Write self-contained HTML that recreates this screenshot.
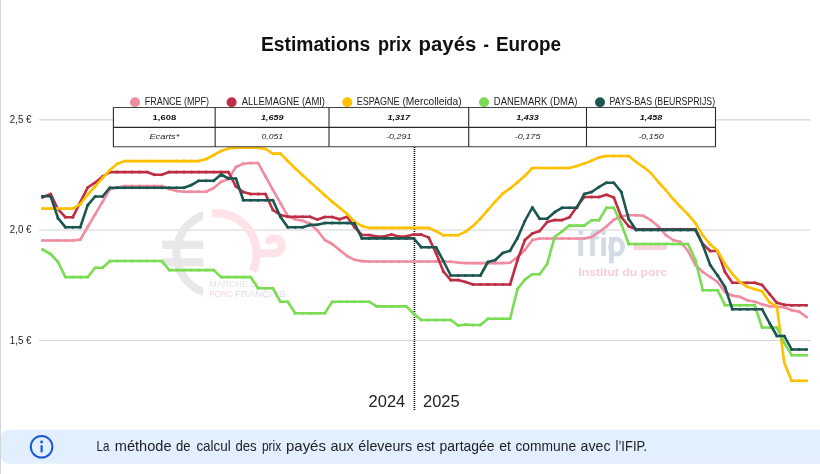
<!DOCTYPE html>
<html><head><meta charset="utf-8">
<style>
html,body{margin:0;padding:0;background:#fff;}
body{width:820px;height:474px;overflow:hidden;position:relative;font-family:"Liberation Sans",sans-serif;}
svg{position:absolute;left:0;top:0;will-change:transform;}
text{font-family:"Liberation Sans",sans-serif;}
</style></head>
<body>
<svg width="820" height="474" viewBox="0 0 820 474">
<rect x="0" y="0" width="820" height="474" fill="#fff"/>
<!-- left border -->
<rect x="0" y="0" width="1" height="474" fill="#d3d3da"/>
<!-- title -->
<g font-size="19.5" font-weight="bold" fill="#111"><text x="260.9" y="50.9" textLength="109.3" lengthAdjust="spacingAndGlyphs">Estimations</text><text x="378" y="50.9" textLength="33.2" lengthAdjust="spacingAndGlyphs">prix</text><text x="418.6" y="50.9" textLength="57.7" lengthAdjust="spacingAndGlyphs">payés</text><text x="483.6" y="50.9" textLength="5.4" lengthAdjust="spacingAndGlyphs">-</text><text x="495.9" y="50.9" textLength="65.1" lengthAdjust="spacingAndGlyphs">Europe</text></g>
<!-- gridlines -->
<g stroke="#d4d4d4" stroke-width="1.2">
<line x1="39" y1="119.8" x2="810.4" y2="119.8"/>
<line x1="39" y1="230" x2="810.4" y2="230"/>
<line x1="39" y1="340.5" x2="810.4" y2="340.5"/>
</g>
<!-- y labels -->
<g font-size="10.6" fill="#222">
<text x="9.8" y="122.9" textLength="21.6" lengthAdjust="spacingAndGlyphs">2,5 €</text>
<text x="9.8" y="233.2" textLength="21.6" lengthAdjust="spacingAndGlyphs">2,0 €</text>
<text x="9.8" y="343.6" textLength="21.6" lengthAdjust="spacingAndGlyphs">1,5 €</text>
</g>
<!-- watermark MPF -->
<g opacity="1">
<path d="M203.2,211.1 A44.7,44.7 0 0 0 203.2,296.1 L203.2,287.5 A36.6,36.6 0 0 1 203.2,219.7 Z" fill="#e8e8e8"/>
<rect x="162.4" y="240.6" width="40.9" height="8.4" fill="#e8e8e8"/>
<rect x="162.4" y="258.2" width="40.9" height="8.1" fill="#e8e8e8"/>
<path d="M212,213.3 A40.5,40.5 0 0 1 252.5,271.4" fill="none" stroke="#fde3e7" stroke-width="8.2"/>
<path d="M256.6,253.2 L274.3,253.2 A7.4,7.4 0 1 0 269.1,240.6" fill="none" stroke="#fde3e7" stroke-width="8" stroke-linecap="round"/>
<text x="209.3" y="287" font-size="8.6" fill="#e4e4e4" textLength="54" lengthAdjust="spacingAndGlyphs">MARCHÉ DU</text>
<text x="209.3" y="296.5" font-size="8.6" fill="#fad5db" textLength="23.5" lengthAdjust="spacingAndGlyphs">PORC</text>
<text x="235" y="296.5" font-size="8.6" fill="#dcdcea" textLength="50.7" lengthAdjust="spacingAndGlyphs">FRANÇAIS</text>
</g>
<!-- watermark IFIP -->
<g>
<g fill="#d3dbe6" stroke="none">
<circle cx="580.75" cy="232.6" r="2.55"/><rect x="578.3" y="237.4" width="4.9" height="18.8"/>
<circle cx="603.55" cy="232.6" r="2.55"/><rect x="601.1" y="237.4" width="4.9" height="18.8"/>
<rect x="586.8" y="235.9" width="12" height="3.6"/>
<rect x="609" y="237" width="4.8" height="26.3"/>
</g>
<path d="M592.45,256.2 L592.45,237" fill="none" stroke="#d3dbe6" stroke-width="4.7"/><path d="M592.2,238 L592.2,236 Q592.2,231.3 598.6,231.5" fill="none" stroke="#d3dbe6" stroke-width="4.1"/>
<ellipse cx="616.6" cy="246.7" rx="6.1" ry="7.5" fill="none" stroke="#d3dbe6" stroke-width="4.7"/>
<rect x="633" y="244.9" width="34" height="5.2" rx="2" fill="#f9d3da"/>
<text x="578.3" y="276.1" font-size="10.4" font-weight="bold" fill="#f7cdd5" textLength="88.7" lengthAdjust="spacingAndGlyphs">Institut du porc</text>
</g>
<!-- year divider -->
<line x1="414.45" y1="147" x2="414.45" y2="411" stroke="#000" stroke-width="1.6" stroke-dasharray="1.1,0.9"/>
<!-- series -->
<polyline points="42.5,240.5 50.6,240.5 58.0,240.5 65.4,240.5 72.8,240.5 80.3,239.6 87.7,227.0 95.1,214.4 102.5,201.8 109.9,189.2 117.3,187.5 124.7,186.0 132.1,186.0 139.5,186.0 147.0,186.0 154.4,186.0 161.8,186.0 169.2,189.0 176.6,191.0 184.0,191.7 191.4,191.7 198.8,191.7 206.2,191.7 213.7,188.0 221.1,181.7 228.5,179.0 235.9,167.0 243.3,163.7 250.7,163.0 258.1,163.1 265.5,176.4 272.9,189.8 280.4,203.2 287.8,216.2 295.2,219.2 302.6,220.8 310.0,223.8 317.4,230.5 324.8,240.0 332.2,244.0 339.6,250.0 347.1,256.0 354.5,259.8 361.9,261.1 369.3,261.5 376.7,261.5 384.1,261.5 391.5,261.5 398.9,261.5 406.3,261.5 413.7,261.5 421.2,261.5 428.6,261.5 436.0,261.5 443.4,261.5 450.8,261.7 458.2,262.5 465.6,263.1 473.0,263.1 480.4,263.1 487.9,263.1 495.3,263.1 502.7,263.1 510.1,262.7 517.5,257.0 524.9,250.0 532.3,240.0 539.7,238.5 547.1,238.5 554.6,238.5 562.0,238.5 569.4,238.5 576.8,238.5 584.2,238.5 591.6,237.0 599.0,232.0 606.4,226.5 613.8,219.8 621.3,216.2 628.7,215.2 636.1,215.2 643.5,215.8 650.9,220.2 658.3,226.2 665.7,235.0 673.1,240.0 680.5,242.0 688.0,251.0 695.4,265.0 702.8,272.0 710.2,277.0 717.6,282.0 725.0,292.0 732.4,295.6 739.8,296.8 747.2,300.2 754.7,301.8 762.1,304.2 769.5,306.2 776.9,306.8 784.3,307.2 791.7,310.2 799.1,311.6 806.5,317.0" fill="none" stroke="#F08C9F" stroke-width="2.6" stroke-linejoin="round" stroke-linecap="round"/>
<g fill="#F08C9F"><circle cx="42.5" cy="240.5" r="1.5"/><circle cx="50.6" cy="240.5" r="1.5"/><circle cx="58.0" cy="240.5" r="1.5"/><circle cx="65.4" cy="240.5" r="1.5"/><circle cx="72.8" cy="240.5" r="1.5"/><circle cx="80.3" cy="239.6" r="1.5"/><circle cx="87.7" cy="227.0" r="1.5"/><circle cx="95.1" cy="214.4" r="1.5"/><circle cx="102.5" cy="201.8" r="1.5"/><circle cx="109.9" cy="189.2" r="1.5"/><circle cx="117.3" cy="187.5" r="1.5"/><circle cx="124.7" cy="186.0" r="1.5"/><circle cx="132.1" cy="186.0" r="1.5"/><circle cx="139.5" cy="186.0" r="1.5"/><circle cx="147.0" cy="186.0" r="1.5"/><circle cx="154.4" cy="186.0" r="1.5"/><circle cx="161.8" cy="186.0" r="1.5"/><circle cx="169.2" cy="189.0" r="1.5"/><circle cx="176.6" cy="191.0" r="1.5"/><circle cx="184.0" cy="191.7" r="1.5"/><circle cx="191.4" cy="191.7" r="1.5"/><circle cx="198.8" cy="191.7" r="1.5"/><circle cx="206.2" cy="191.7" r="1.5"/><circle cx="213.7" cy="188.0" r="1.5"/><circle cx="221.1" cy="181.7" r="1.5"/><circle cx="228.5" cy="179.0" r="1.5"/><circle cx="235.9" cy="167.0" r="1.5"/><circle cx="243.3" cy="163.7" r="1.5"/><circle cx="250.7" cy="163.0" r="1.5"/><circle cx="258.1" cy="163.1" r="1.5"/><circle cx="265.5" cy="176.4" r="1.5"/><circle cx="272.9" cy="189.8" r="1.5"/><circle cx="280.4" cy="203.2" r="1.5"/><circle cx="287.8" cy="216.2" r="1.5"/><circle cx="295.2" cy="219.2" r="1.5"/><circle cx="302.6" cy="220.8" r="1.5"/><circle cx="310.0" cy="223.8" r="1.5"/><circle cx="317.4" cy="230.5" r="1.5"/><circle cx="324.8" cy="240.0" r="1.5"/><circle cx="332.2" cy="244.0" r="1.5"/><circle cx="339.6" cy="250.0" r="1.5"/><circle cx="347.1" cy="256.0" r="1.5"/><circle cx="354.5" cy="259.8" r="1.5"/><circle cx="361.9" cy="261.1" r="1.5"/><circle cx="369.3" cy="261.5" r="1.5"/><circle cx="376.7" cy="261.5" r="1.5"/><circle cx="384.1" cy="261.5" r="1.5"/><circle cx="391.5" cy="261.5" r="1.5"/><circle cx="398.9" cy="261.5" r="1.5"/><circle cx="406.3" cy="261.5" r="1.5"/><circle cx="413.7" cy="261.5" r="1.5"/><circle cx="421.2" cy="261.5" r="1.5"/><circle cx="428.6" cy="261.5" r="1.5"/><circle cx="436.0" cy="261.5" r="1.5"/><circle cx="443.4" cy="261.5" r="1.5"/><circle cx="450.8" cy="261.7" r="1.5"/><circle cx="458.2" cy="262.5" r="1.5"/><circle cx="465.6" cy="263.1" r="1.5"/><circle cx="473.0" cy="263.1" r="1.5"/><circle cx="480.4" cy="263.1" r="1.5"/><circle cx="487.9" cy="263.1" r="1.5"/><circle cx="495.3" cy="263.1" r="1.5"/><circle cx="502.7" cy="263.1" r="1.5"/><circle cx="510.1" cy="262.7" r="1.5"/><circle cx="517.5" cy="257.0" r="1.5"/><circle cx="524.9" cy="250.0" r="1.5"/><circle cx="532.3" cy="240.0" r="1.5"/><circle cx="539.7" cy="238.5" r="1.5"/><circle cx="547.1" cy="238.5" r="1.5"/><circle cx="554.6" cy="238.5" r="1.5"/><circle cx="562.0" cy="238.5" r="1.5"/><circle cx="569.4" cy="238.5" r="1.5"/><circle cx="576.8" cy="238.5" r="1.5"/><circle cx="584.2" cy="238.5" r="1.5"/><circle cx="591.6" cy="237.0" r="1.5"/><circle cx="599.0" cy="232.0" r="1.5"/><circle cx="606.4" cy="226.5" r="1.5"/><circle cx="613.8" cy="219.8" r="1.5"/><circle cx="621.3" cy="216.2" r="1.5"/><circle cx="628.7" cy="215.2" r="1.5"/><circle cx="636.1" cy="215.2" r="1.5"/><circle cx="643.5" cy="215.8" r="1.5"/><circle cx="650.9" cy="220.2" r="1.5"/><circle cx="658.3" cy="226.2" r="1.5"/><circle cx="665.7" cy="235.0" r="1.5"/><circle cx="673.1" cy="240.0" r="1.5"/><circle cx="680.5" cy="242.0" r="1.5"/><circle cx="688.0" cy="251.0" r="1.5"/><circle cx="695.4" cy="265.0" r="1.5"/><circle cx="702.8" cy="272.0" r="1.5"/><circle cx="710.2" cy="277.0" r="1.5"/><circle cx="717.6" cy="282.0" r="1.5"/><circle cx="725.0" cy="292.0" r="1.5"/><circle cx="732.4" cy="295.6" r="1.5"/><circle cx="739.8" cy="296.8" r="1.5"/><circle cx="747.2" cy="300.2" r="1.5"/><circle cx="754.7" cy="301.8" r="1.5"/><circle cx="762.1" cy="304.2" r="1.5"/><circle cx="769.5" cy="306.2" r="1.5"/><circle cx="776.9" cy="306.8" r="1.5"/><circle cx="784.3" cy="307.2" r="1.5"/><circle cx="791.7" cy="310.2" r="1.5"/><circle cx="799.1" cy="311.6" r="1.5"/><circle cx="806.5" cy="317.0" r="1.5"/></g>
<polyline points="42.5,197.3 50.6,193.9 58.0,209.2 65.4,217.2 72.8,217.2 80.3,202.2 87.7,187.5 95.1,182.7 102.5,176.5 109.9,172.1 117.3,172.1 124.7,172.1 132.1,172.1 139.5,172.1 147.0,172.1 154.4,174.7 161.8,174.7 169.2,172.1 176.6,172.1 184.0,172.1 191.4,172.1 198.8,172.1 206.2,172.1 213.7,172.1 221.1,172.1 228.5,172.1 235.9,186.5 243.3,192.0 250.7,194.0 258.1,194.0 265.5,194.0 272.9,210.0 280.4,215.0 287.8,216.8 295.2,216.8 302.6,216.8 310.0,216.8 317.4,219.6 324.8,217.0 332.2,217.0 339.6,219.3 347.1,216.7 354.5,227.2 361.9,235.0 369.3,235.0 376.7,236.6 384.1,236.6 391.5,234.6 398.9,236.6 406.3,236.2 413.7,234.6 421.2,234.6 428.6,237.4 436.0,253.0 443.4,271.5 450.8,280.1 458.2,280.1 465.6,282.1 473.0,284.5 480.4,284.5 487.9,284.5 495.3,284.5 502.7,284.5 510.1,284.5 517.5,260.0 524.9,240.0 532.3,233.5 539.7,231.0 547.1,222.1 554.6,220.1 562.0,220.1 569.4,217.2 576.8,207.0 584.2,197.0 591.6,197.0 599.0,197.0 606.4,194.7 613.8,197.5 621.3,217.0 628.7,226.2 636.1,229.2 643.5,229.2 650.9,229.2 658.3,229.2 665.7,229.2 673.1,229.2 680.5,229.2 688.0,229.2 695.4,229.2 702.8,244.0 710.2,251.0 717.6,251.0 725.0,272.0 732.4,282.7 739.8,282.7 747.2,282.7 754.7,282.7 762.1,285.0 769.5,294.0 776.9,302.8 784.3,304.8 791.7,305.2 799.1,305.2 806.5,305.2" fill="none" stroke="#BE2E45" stroke-width="2.6" stroke-linejoin="round" stroke-linecap="round"/>
<g fill="#BE2E45"><circle cx="42.5" cy="197.3" r="1.5"/><circle cx="50.6" cy="193.9" r="1.5"/><circle cx="58.0" cy="209.2" r="1.5"/><circle cx="65.4" cy="217.2" r="1.5"/><circle cx="72.8" cy="217.2" r="1.5"/><circle cx="80.3" cy="202.2" r="1.5"/><circle cx="87.7" cy="187.5" r="1.5"/><circle cx="95.1" cy="182.7" r="1.5"/><circle cx="102.5" cy="176.5" r="1.5"/><circle cx="109.9" cy="172.1" r="1.5"/><circle cx="117.3" cy="172.1" r="1.5"/><circle cx="124.7" cy="172.1" r="1.5"/><circle cx="132.1" cy="172.1" r="1.5"/><circle cx="139.5" cy="172.1" r="1.5"/><circle cx="147.0" cy="172.1" r="1.5"/><circle cx="154.4" cy="174.7" r="1.5"/><circle cx="161.8" cy="174.7" r="1.5"/><circle cx="169.2" cy="172.1" r="1.5"/><circle cx="176.6" cy="172.1" r="1.5"/><circle cx="184.0" cy="172.1" r="1.5"/><circle cx="191.4" cy="172.1" r="1.5"/><circle cx="198.8" cy="172.1" r="1.5"/><circle cx="206.2" cy="172.1" r="1.5"/><circle cx="213.7" cy="172.1" r="1.5"/><circle cx="221.1" cy="172.1" r="1.5"/><circle cx="228.5" cy="172.1" r="1.5"/><circle cx="235.9" cy="186.5" r="1.5"/><circle cx="243.3" cy="192.0" r="1.5"/><circle cx="250.7" cy="194.0" r="1.5"/><circle cx="258.1" cy="194.0" r="1.5"/><circle cx="265.5" cy="194.0" r="1.5"/><circle cx="272.9" cy="210.0" r="1.5"/><circle cx="280.4" cy="215.0" r="1.5"/><circle cx="287.8" cy="216.8" r="1.5"/><circle cx="295.2" cy="216.8" r="1.5"/><circle cx="302.6" cy="216.8" r="1.5"/><circle cx="310.0" cy="216.8" r="1.5"/><circle cx="317.4" cy="219.6" r="1.5"/><circle cx="324.8" cy="217.0" r="1.5"/><circle cx="332.2" cy="217.0" r="1.5"/><circle cx="339.6" cy="219.3" r="1.5"/><circle cx="347.1" cy="216.7" r="1.5"/><circle cx="354.5" cy="227.2" r="1.5"/><circle cx="361.9" cy="235.0" r="1.5"/><circle cx="369.3" cy="235.0" r="1.5"/><circle cx="376.7" cy="236.6" r="1.5"/><circle cx="384.1" cy="236.6" r="1.5"/><circle cx="391.5" cy="234.6" r="1.5"/><circle cx="398.9" cy="236.6" r="1.5"/><circle cx="406.3" cy="236.2" r="1.5"/><circle cx="413.7" cy="234.6" r="1.5"/><circle cx="421.2" cy="234.6" r="1.5"/><circle cx="428.6" cy="237.4" r="1.5"/><circle cx="436.0" cy="253.0" r="1.5"/><circle cx="443.4" cy="271.5" r="1.5"/><circle cx="450.8" cy="280.1" r="1.5"/><circle cx="458.2" cy="280.1" r="1.5"/><circle cx="465.6" cy="282.1" r="1.5"/><circle cx="473.0" cy="284.5" r="1.5"/><circle cx="480.4" cy="284.5" r="1.5"/><circle cx="487.9" cy="284.5" r="1.5"/><circle cx="495.3" cy="284.5" r="1.5"/><circle cx="502.7" cy="284.5" r="1.5"/><circle cx="510.1" cy="284.5" r="1.5"/><circle cx="517.5" cy="260.0" r="1.5"/><circle cx="524.9" cy="240.0" r="1.5"/><circle cx="532.3" cy="233.5" r="1.5"/><circle cx="539.7" cy="231.0" r="1.5"/><circle cx="547.1" cy="222.1" r="1.5"/><circle cx="554.6" cy="220.1" r="1.5"/><circle cx="562.0" cy="220.1" r="1.5"/><circle cx="569.4" cy="217.2" r="1.5"/><circle cx="576.8" cy="207.0" r="1.5"/><circle cx="584.2" cy="197.0" r="1.5"/><circle cx="591.6" cy="197.0" r="1.5"/><circle cx="599.0" cy="197.0" r="1.5"/><circle cx="606.4" cy="194.7" r="1.5"/><circle cx="613.8" cy="197.5" r="1.5"/><circle cx="621.3" cy="217.0" r="1.5"/><circle cx="628.7" cy="226.2" r="1.5"/><circle cx="636.1" cy="229.2" r="1.5"/><circle cx="643.5" cy="229.2" r="1.5"/><circle cx="650.9" cy="229.2" r="1.5"/><circle cx="658.3" cy="229.2" r="1.5"/><circle cx="665.7" cy="229.2" r="1.5"/><circle cx="673.1" cy="229.2" r="1.5"/><circle cx="680.5" cy="229.2" r="1.5"/><circle cx="688.0" cy="229.2" r="1.5"/><circle cx="695.4" cy="229.2" r="1.5"/><circle cx="702.8" cy="244.0" r="1.5"/><circle cx="710.2" cy="251.0" r="1.5"/><circle cx="717.6" cy="251.0" r="1.5"/><circle cx="725.0" cy="272.0" r="1.5"/><circle cx="732.4" cy="282.7" r="1.5"/><circle cx="739.8" cy="282.7" r="1.5"/><circle cx="747.2" cy="282.7" r="1.5"/><circle cx="754.7" cy="282.7" r="1.5"/><circle cx="762.1" cy="285.0" r="1.5"/><circle cx="769.5" cy="294.0" r="1.5"/><circle cx="776.9" cy="302.8" r="1.5"/><circle cx="784.3" cy="304.8" r="1.5"/><circle cx="791.7" cy="305.2" r="1.5"/><circle cx="799.1" cy="305.2" r="1.5"/><circle cx="806.5" cy="305.2" r="1.5"/></g>
<polyline points="42.5,208.6 50.6,208.6 58.0,208.6 65.4,208.6 72.8,208.6 80.3,204.2 87.7,194.5 95.1,186.5 102.5,178.1 109.9,170.1 117.3,163.7 124.7,161.1 132.1,161.1 139.5,161.1 147.0,161.1 154.4,161.1 161.8,161.1 169.2,161.1 176.6,161.1 184.0,161.1 191.4,161.1 198.8,161.1 206.2,159.0 213.7,155.0 221.1,151.0 228.5,148.4 235.9,147.8 243.3,147.8 250.7,147.8 258.1,147.8 265.5,149.0 272.9,153.6 280.4,153.6 287.8,161.0 295.2,168.4 302.6,175.2 310.0,181.9 317.4,188.6 324.8,195.3 332.2,201.7 339.6,207.8 347.1,214.0 354.5,221.6 361.9,226.0 369.3,227.9 376.7,227.9 384.1,227.9 391.5,227.9 398.9,227.9 406.3,227.9 413.7,227.9 421.2,227.9 428.6,227.9 436.0,231.2 443.4,235.2 450.8,235.2 458.2,235.2 465.6,231.6 473.0,226.0 480.4,218.6 487.9,210.0 495.3,201.4 502.7,193.6 510.1,188.4 517.5,182.2 524.9,175.8 532.3,168.0 539.7,168.0 547.1,168.0 554.6,168.0 562.0,168.0 569.4,168.0 576.8,166.0 584.2,163.6 591.6,160.6 599.0,157.4 606.4,156.0 613.8,156.0 621.3,156.0 628.7,156.0 636.1,162.0 643.5,167.0 650.9,173.0 658.3,182.0 665.7,190.0 673.1,199.0 680.5,206.8 688.0,214.4 695.4,223.2 702.8,235.4 710.2,244.2 717.6,250.8 725.0,264.0 732.4,274.0 739.8,282.0 747.2,286.8 754.7,289.2 762.1,291.2 769.5,302.2 776.9,306.5 784.3,363.0 791.7,380.8 799.1,380.8 806.5,380.8" fill="none" stroke="#FFC000" stroke-width="2.6" stroke-linejoin="round" stroke-linecap="round"/>
<g fill="#FFC000"><circle cx="42.5" cy="208.6" r="1.5"/><circle cx="50.6" cy="208.6" r="1.5"/><circle cx="58.0" cy="208.6" r="1.5"/><circle cx="65.4" cy="208.6" r="1.5"/><circle cx="72.8" cy="208.6" r="1.5"/><circle cx="80.3" cy="204.2" r="1.5"/><circle cx="87.7" cy="194.5" r="1.5"/><circle cx="95.1" cy="186.5" r="1.5"/><circle cx="102.5" cy="178.1" r="1.5"/><circle cx="109.9" cy="170.1" r="1.5"/><circle cx="117.3" cy="163.7" r="1.5"/><circle cx="124.7" cy="161.1" r="1.5"/><circle cx="132.1" cy="161.1" r="1.5"/><circle cx="139.5" cy="161.1" r="1.5"/><circle cx="147.0" cy="161.1" r="1.5"/><circle cx="154.4" cy="161.1" r="1.5"/><circle cx="161.8" cy="161.1" r="1.5"/><circle cx="169.2" cy="161.1" r="1.5"/><circle cx="176.6" cy="161.1" r="1.5"/><circle cx="184.0" cy="161.1" r="1.5"/><circle cx="191.4" cy="161.1" r="1.5"/><circle cx="198.8" cy="161.1" r="1.5"/><circle cx="206.2" cy="159.0" r="1.5"/><circle cx="213.7" cy="155.0" r="1.5"/><circle cx="221.1" cy="151.0" r="1.5"/><circle cx="228.5" cy="148.4" r="1.5"/><circle cx="235.9" cy="147.8" r="1.5"/><circle cx="243.3" cy="147.8" r="1.5"/><circle cx="250.7" cy="147.8" r="1.5"/><circle cx="258.1" cy="147.8" r="1.5"/><circle cx="265.5" cy="149.0" r="1.5"/><circle cx="272.9" cy="153.6" r="1.5"/><circle cx="280.4" cy="153.6" r="1.5"/><circle cx="287.8" cy="161.0" r="1.5"/><circle cx="295.2" cy="168.4" r="1.5"/><circle cx="302.6" cy="175.2" r="1.5"/><circle cx="310.0" cy="181.9" r="1.5"/><circle cx="317.4" cy="188.6" r="1.5"/><circle cx="324.8" cy="195.3" r="1.5"/><circle cx="332.2" cy="201.7" r="1.5"/><circle cx="339.6" cy="207.8" r="1.5"/><circle cx="347.1" cy="214.0" r="1.5"/><circle cx="354.5" cy="221.6" r="1.5"/><circle cx="361.9" cy="226.0" r="1.5"/><circle cx="369.3" cy="227.9" r="1.5"/><circle cx="376.7" cy="227.9" r="1.5"/><circle cx="384.1" cy="227.9" r="1.5"/><circle cx="391.5" cy="227.9" r="1.5"/><circle cx="398.9" cy="227.9" r="1.5"/><circle cx="406.3" cy="227.9" r="1.5"/><circle cx="413.7" cy="227.9" r="1.5"/><circle cx="421.2" cy="227.9" r="1.5"/><circle cx="428.6" cy="227.9" r="1.5"/><circle cx="436.0" cy="231.2" r="1.5"/><circle cx="443.4" cy="235.2" r="1.5"/><circle cx="450.8" cy="235.2" r="1.5"/><circle cx="458.2" cy="235.2" r="1.5"/><circle cx="465.6" cy="231.6" r="1.5"/><circle cx="473.0" cy="226.0" r="1.5"/><circle cx="480.4" cy="218.6" r="1.5"/><circle cx="487.9" cy="210.0" r="1.5"/><circle cx="495.3" cy="201.4" r="1.5"/><circle cx="502.7" cy="193.6" r="1.5"/><circle cx="510.1" cy="188.4" r="1.5"/><circle cx="517.5" cy="182.2" r="1.5"/><circle cx="524.9" cy="175.8" r="1.5"/><circle cx="532.3" cy="168.0" r="1.5"/><circle cx="539.7" cy="168.0" r="1.5"/><circle cx="547.1" cy="168.0" r="1.5"/><circle cx="554.6" cy="168.0" r="1.5"/><circle cx="562.0" cy="168.0" r="1.5"/><circle cx="569.4" cy="168.0" r="1.5"/><circle cx="576.8" cy="166.0" r="1.5"/><circle cx="584.2" cy="163.6" r="1.5"/><circle cx="591.6" cy="160.6" r="1.5"/><circle cx="599.0" cy="157.4" r="1.5"/><circle cx="606.4" cy="156.0" r="1.5"/><circle cx="613.8" cy="156.0" r="1.5"/><circle cx="621.3" cy="156.0" r="1.5"/><circle cx="628.7" cy="156.0" r="1.5"/><circle cx="636.1" cy="162.0" r="1.5"/><circle cx="643.5" cy="167.0" r="1.5"/><circle cx="650.9" cy="173.0" r="1.5"/><circle cx="658.3" cy="182.0" r="1.5"/><circle cx="665.7" cy="190.0" r="1.5"/><circle cx="673.1" cy="199.0" r="1.5"/><circle cx="680.5" cy="206.8" r="1.5"/><circle cx="688.0" cy="214.4" r="1.5"/><circle cx="695.4" cy="223.2" r="1.5"/><circle cx="702.8" cy="235.4" r="1.5"/><circle cx="710.2" cy="244.2" r="1.5"/><circle cx="717.6" cy="250.8" r="1.5"/><circle cx="725.0" cy="264.0" r="1.5"/><circle cx="732.4" cy="274.0" r="1.5"/><circle cx="739.8" cy="282.0" r="1.5"/><circle cx="747.2" cy="286.8" r="1.5"/><circle cx="754.7" cy="289.2" r="1.5"/><circle cx="762.1" cy="291.2" r="1.5"/><circle cx="769.5" cy="302.2" r="1.5"/><circle cx="776.9" cy="306.5" r="1.5"/><circle cx="784.3" cy="363.0" r="1.5"/><circle cx="791.7" cy="380.8" r="1.5"/><circle cx="799.1" cy="380.8" r="1.5"/><circle cx="806.5" cy="380.8" r="1.5"/></g>
<polyline points="42.5,249.5 50.6,254.0 58.0,262.0 65.4,277.1 72.8,277.1 80.3,277.1 87.7,277.1 95.1,267.7 102.5,267.7 109.9,261.0 117.3,261.0 124.7,261.0 132.1,261.0 139.5,261.0 147.0,261.0 154.4,261.0 161.8,261.0 169.2,270.1 176.6,270.1 184.0,270.1 191.4,270.1 198.8,270.1 206.2,270.1 213.7,270.1 221.1,277.1 228.5,277.1 235.9,277.1 243.3,277.1 250.7,277.1 258.1,288.2 265.5,288.2 272.9,288.2 280.4,301.8 287.8,301.8 295.2,313.2 302.6,313.2 310.0,313.2 317.4,313.2 324.8,313.2 332.2,301.8 339.6,301.8 347.1,301.8 354.5,301.8 361.9,301.8 369.3,301.8 376.7,306.4 384.1,306.4 391.5,306.4 398.9,306.4 406.3,306.4 413.7,313.7 421.2,320.0 428.6,320.0 436.0,320.0 443.4,320.0 450.8,320.0 458.2,325.5 465.6,324.5 473.0,325.0 480.4,325.0 487.9,318.7 495.3,318.7 502.7,318.7 510.1,318.7 517.5,289.0 524.9,279.6 532.3,274.2 539.7,274.2 547.1,264.0 554.6,237.0 562.0,231.5 569.4,225.6 576.8,225.6 584.2,225.6 591.6,220.2 599.0,220.2 606.4,207.8 613.8,207.8 621.3,224.0 628.7,244.0 636.1,244.0 643.5,244.0 650.9,244.0 658.3,244.0 665.7,244.0 673.1,244.0 680.5,244.0 688.0,244.0 695.4,260.0 702.8,290.2 710.2,290.2 717.6,290.2 725.0,305.2 732.4,305.2 739.8,305.2 747.2,305.2 754.7,305.2 762.1,327.5 769.5,327.5 776.9,327.5 784.3,343.0 791.7,355.2 799.1,355.2 806.5,355.2" fill="none" stroke="#79DC52" stroke-width="2.6" stroke-linejoin="round" stroke-linecap="round"/>
<g fill="#79DC52"><circle cx="42.5" cy="249.5" r="1.5"/><circle cx="50.6" cy="254.0" r="1.5"/><circle cx="58.0" cy="262.0" r="1.5"/><circle cx="65.4" cy="277.1" r="1.5"/><circle cx="72.8" cy="277.1" r="1.5"/><circle cx="80.3" cy="277.1" r="1.5"/><circle cx="87.7" cy="277.1" r="1.5"/><circle cx="95.1" cy="267.7" r="1.5"/><circle cx="102.5" cy="267.7" r="1.5"/><circle cx="109.9" cy="261.0" r="1.5"/><circle cx="117.3" cy="261.0" r="1.5"/><circle cx="124.7" cy="261.0" r="1.5"/><circle cx="132.1" cy="261.0" r="1.5"/><circle cx="139.5" cy="261.0" r="1.5"/><circle cx="147.0" cy="261.0" r="1.5"/><circle cx="154.4" cy="261.0" r="1.5"/><circle cx="161.8" cy="261.0" r="1.5"/><circle cx="169.2" cy="270.1" r="1.5"/><circle cx="176.6" cy="270.1" r="1.5"/><circle cx="184.0" cy="270.1" r="1.5"/><circle cx="191.4" cy="270.1" r="1.5"/><circle cx="198.8" cy="270.1" r="1.5"/><circle cx="206.2" cy="270.1" r="1.5"/><circle cx="213.7" cy="270.1" r="1.5"/><circle cx="221.1" cy="277.1" r="1.5"/><circle cx="228.5" cy="277.1" r="1.5"/><circle cx="235.9" cy="277.1" r="1.5"/><circle cx="243.3" cy="277.1" r="1.5"/><circle cx="250.7" cy="277.1" r="1.5"/><circle cx="258.1" cy="288.2" r="1.5"/><circle cx="265.5" cy="288.2" r="1.5"/><circle cx="272.9" cy="288.2" r="1.5"/><circle cx="280.4" cy="301.8" r="1.5"/><circle cx="287.8" cy="301.8" r="1.5"/><circle cx="295.2" cy="313.2" r="1.5"/><circle cx="302.6" cy="313.2" r="1.5"/><circle cx="310.0" cy="313.2" r="1.5"/><circle cx="317.4" cy="313.2" r="1.5"/><circle cx="324.8" cy="313.2" r="1.5"/><circle cx="332.2" cy="301.8" r="1.5"/><circle cx="339.6" cy="301.8" r="1.5"/><circle cx="347.1" cy="301.8" r="1.5"/><circle cx="354.5" cy="301.8" r="1.5"/><circle cx="361.9" cy="301.8" r="1.5"/><circle cx="369.3" cy="301.8" r="1.5"/><circle cx="376.7" cy="306.4" r="1.5"/><circle cx="384.1" cy="306.4" r="1.5"/><circle cx="391.5" cy="306.4" r="1.5"/><circle cx="398.9" cy="306.4" r="1.5"/><circle cx="406.3" cy="306.4" r="1.5"/><circle cx="413.7" cy="313.7" r="1.5"/><circle cx="421.2" cy="320.0" r="1.5"/><circle cx="428.6" cy="320.0" r="1.5"/><circle cx="436.0" cy="320.0" r="1.5"/><circle cx="443.4" cy="320.0" r="1.5"/><circle cx="450.8" cy="320.0" r="1.5"/><circle cx="458.2" cy="325.5" r="1.5"/><circle cx="465.6" cy="324.5" r="1.5"/><circle cx="473.0" cy="325.0" r="1.5"/><circle cx="480.4" cy="325.0" r="1.5"/><circle cx="487.9" cy="318.7" r="1.5"/><circle cx="495.3" cy="318.7" r="1.5"/><circle cx="502.7" cy="318.7" r="1.5"/><circle cx="510.1" cy="318.7" r="1.5"/><circle cx="517.5" cy="289.0" r="1.5"/><circle cx="524.9" cy="279.6" r="1.5"/><circle cx="532.3" cy="274.2" r="1.5"/><circle cx="539.7" cy="274.2" r="1.5"/><circle cx="547.1" cy="264.0" r="1.5"/><circle cx="554.6" cy="237.0" r="1.5"/><circle cx="562.0" cy="231.5" r="1.5"/><circle cx="569.4" cy="225.6" r="1.5"/><circle cx="576.8" cy="225.6" r="1.5"/><circle cx="584.2" cy="225.6" r="1.5"/><circle cx="591.6" cy="220.2" r="1.5"/><circle cx="599.0" cy="220.2" r="1.5"/><circle cx="606.4" cy="207.8" r="1.5"/><circle cx="613.8" cy="207.8" r="1.5"/><circle cx="621.3" cy="224.0" r="1.5"/><circle cx="628.7" cy="244.0" r="1.5"/><circle cx="636.1" cy="244.0" r="1.5"/><circle cx="643.5" cy="244.0" r="1.5"/><circle cx="650.9" cy="244.0" r="1.5"/><circle cx="658.3" cy="244.0" r="1.5"/><circle cx="665.7" cy="244.0" r="1.5"/><circle cx="673.1" cy="244.0" r="1.5"/><circle cx="680.5" cy="244.0" r="1.5"/><circle cx="688.0" cy="244.0" r="1.5"/><circle cx="695.4" cy="260.0" r="1.5"/><circle cx="702.8" cy="290.2" r="1.5"/><circle cx="710.2" cy="290.2" r="1.5"/><circle cx="717.6" cy="290.2" r="1.5"/><circle cx="725.0" cy="305.2" r="1.5"/><circle cx="732.4" cy="305.2" r="1.5"/><circle cx="739.8" cy="305.2" r="1.5"/><circle cx="747.2" cy="305.2" r="1.5"/><circle cx="754.7" cy="305.2" r="1.5"/><circle cx="762.1" cy="327.5" r="1.5"/><circle cx="769.5" cy="327.5" r="1.5"/><circle cx="776.9" cy="327.5" r="1.5"/><circle cx="784.3" cy="343.0" r="1.5"/><circle cx="791.7" cy="355.2" r="1.5"/><circle cx="799.1" cy="355.2" r="1.5"/><circle cx="806.5" cy="355.2" r="1.5"/></g>
<polyline points="42.5,196.2 50.6,196.2 58.0,218.2 65.4,227.2 72.8,227.2 80.3,227.2 87.7,205.2 95.1,196.5 102.5,196.5 109.9,187.7 117.3,187.7 124.7,187.7 132.1,187.7 139.5,187.7 147.0,187.7 154.4,187.7 161.8,187.7 169.2,187.7 176.6,187.7 184.0,187.7 191.4,185.1 198.8,180.7 206.2,180.7 213.7,180.7 221.1,174.5 228.5,178.5 235.9,178.5 243.3,200.2 250.7,200.2 258.1,200.2 265.5,200.2 272.9,200.2 280.4,216.8 287.8,227.2 295.2,227.2 302.6,227.2 310.0,224.9 317.4,224.7 324.8,223.0 332.2,223.0 339.6,223.0 347.1,223.0 354.5,223.4 361.9,238.4 369.3,238.4 376.7,238.4 384.1,238.4 391.5,238.4 398.9,238.4 406.3,238.4 413.7,238.4 421.2,247.2 428.6,247.2 436.0,247.2 443.4,261.0 450.8,275.5 458.2,275.5 465.6,275.5 473.0,275.5 480.4,275.5 487.9,262.0 495.3,260.0 502.7,253.0 510.1,250.7 517.5,238.0 524.9,221.0 532.3,207.5 539.7,218.8 547.1,218.8 554.6,212.2 562.0,207.8 569.4,207.8 576.8,207.8 584.2,194.0 591.6,192.0 599.0,187.0 606.4,182.7 613.8,182.7 621.3,192.0 628.7,219.0 636.1,229.9 643.5,229.9 650.9,229.9 658.3,229.9 665.7,229.9 673.1,229.9 680.5,229.9 688.0,229.9 695.4,229.9 702.8,245.0 710.2,265.0 717.6,275.5 725.0,287.0 732.4,309.3 739.8,309.3 747.2,309.3 754.7,309.3 762.1,309.3 769.5,323.0 776.9,336.0 784.3,336.0 791.7,349.5 799.1,349.5 806.5,349.5" fill="none" stroke="#1B5650" stroke-width="2.6" stroke-linejoin="round" stroke-linecap="round"/>
<g fill="#1B5650"><circle cx="42.5" cy="196.2" r="1.5"/><circle cx="50.6" cy="196.2" r="1.5"/><circle cx="58.0" cy="218.2" r="1.5"/><circle cx="65.4" cy="227.2" r="1.5"/><circle cx="72.8" cy="227.2" r="1.5"/><circle cx="80.3" cy="227.2" r="1.5"/><circle cx="87.7" cy="205.2" r="1.5"/><circle cx="95.1" cy="196.5" r="1.5"/><circle cx="102.5" cy="196.5" r="1.5"/><circle cx="109.9" cy="187.7" r="1.5"/><circle cx="117.3" cy="187.7" r="1.5"/><circle cx="124.7" cy="187.7" r="1.5"/><circle cx="132.1" cy="187.7" r="1.5"/><circle cx="139.5" cy="187.7" r="1.5"/><circle cx="147.0" cy="187.7" r="1.5"/><circle cx="154.4" cy="187.7" r="1.5"/><circle cx="161.8" cy="187.7" r="1.5"/><circle cx="169.2" cy="187.7" r="1.5"/><circle cx="176.6" cy="187.7" r="1.5"/><circle cx="184.0" cy="187.7" r="1.5"/><circle cx="191.4" cy="185.1" r="1.5"/><circle cx="198.8" cy="180.7" r="1.5"/><circle cx="206.2" cy="180.7" r="1.5"/><circle cx="213.7" cy="180.7" r="1.5"/><circle cx="221.1" cy="174.5" r="1.5"/><circle cx="228.5" cy="178.5" r="1.5"/><circle cx="235.9" cy="178.5" r="1.5"/><circle cx="243.3" cy="200.2" r="1.5"/><circle cx="250.7" cy="200.2" r="1.5"/><circle cx="258.1" cy="200.2" r="1.5"/><circle cx="265.5" cy="200.2" r="1.5"/><circle cx="272.9" cy="200.2" r="1.5"/><circle cx="280.4" cy="216.8" r="1.5"/><circle cx="287.8" cy="227.2" r="1.5"/><circle cx="295.2" cy="227.2" r="1.5"/><circle cx="302.6" cy="227.2" r="1.5"/><circle cx="310.0" cy="224.9" r="1.5"/><circle cx="317.4" cy="224.7" r="1.5"/><circle cx="324.8" cy="223.0" r="1.5"/><circle cx="332.2" cy="223.0" r="1.5"/><circle cx="339.6" cy="223.0" r="1.5"/><circle cx="347.1" cy="223.0" r="1.5"/><circle cx="354.5" cy="223.4" r="1.5"/><circle cx="361.9" cy="238.4" r="1.5"/><circle cx="369.3" cy="238.4" r="1.5"/><circle cx="376.7" cy="238.4" r="1.5"/><circle cx="384.1" cy="238.4" r="1.5"/><circle cx="391.5" cy="238.4" r="1.5"/><circle cx="398.9" cy="238.4" r="1.5"/><circle cx="406.3" cy="238.4" r="1.5"/><circle cx="413.7" cy="238.4" r="1.5"/><circle cx="421.2" cy="247.2" r="1.5"/><circle cx="428.6" cy="247.2" r="1.5"/><circle cx="436.0" cy="247.2" r="1.5"/><circle cx="443.4" cy="261.0" r="1.5"/><circle cx="450.8" cy="275.5" r="1.5"/><circle cx="458.2" cy="275.5" r="1.5"/><circle cx="465.6" cy="275.5" r="1.5"/><circle cx="473.0" cy="275.5" r="1.5"/><circle cx="480.4" cy="275.5" r="1.5"/><circle cx="487.9" cy="262.0" r="1.5"/><circle cx="495.3" cy="260.0" r="1.5"/><circle cx="502.7" cy="253.0" r="1.5"/><circle cx="510.1" cy="250.7" r="1.5"/><circle cx="517.5" cy="238.0" r="1.5"/><circle cx="524.9" cy="221.0" r="1.5"/><circle cx="532.3" cy="207.5" r="1.5"/><circle cx="539.7" cy="218.8" r="1.5"/><circle cx="547.1" cy="218.8" r="1.5"/><circle cx="554.6" cy="212.2" r="1.5"/><circle cx="562.0" cy="207.8" r="1.5"/><circle cx="569.4" cy="207.8" r="1.5"/><circle cx="576.8" cy="207.8" r="1.5"/><circle cx="584.2" cy="194.0" r="1.5"/><circle cx="591.6" cy="192.0" r="1.5"/><circle cx="599.0" cy="187.0" r="1.5"/><circle cx="606.4" cy="182.7" r="1.5"/><circle cx="613.8" cy="182.7" r="1.5"/><circle cx="621.3" cy="192.0" r="1.5"/><circle cx="628.7" cy="219.0" r="1.5"/><circle cx="636.1" cy="229.9" r="1.5"/><circle cx="643.5" cy="229.9" r="1.5"/><circle cx="650.9" cy="229.9" r="1.5"/><circle cx="658.3" cy="229.9" r="1.5"/><circle cx="665.7" cy="229.9" r="1.5"/><circle cx="673.1" cy="229.9" r="1.5"/><circle cx="680.5" cy="229.9" r="1.5"/><circle cx="688.0" cy="229.9" r="1.5"/><circle cx="695.4" cy="229.9" r="1.5"/><circle cx="702.8" cy="245.0" r="1.5"/><circle cx="710.2" cy="265.0" r="1.5"/><circle cx="717.6" cy="275.5" r="1.5"/><circle cx="725.0" cy="287.0" r="1.5"/><circle cx="732.4" cy="309.3" r="1.5"/><circle cx="739.8" cy="309.3" r="1.5"/><circle cx="747.2" cy="309.3" r="1.5"/><circle cx="754.7" cy="309.3" r="1.5"/><circle cx="762.1" cy="309.3" r="1.5"/><circle cx="769.5" cy="323.0" r="1.5"/><circle cx="776.9" cy="336.0" r="1.5"/><circle cx="784.3" cy="336.0" r="1.5"/><circle cx="791.7" cy="349.5" r="1.5"/><circle cx="799.1" cy="349.5" r="1.5"/><circle cx="806.5" cy="349.5" r="1.5"/></g>
<!-- legend -->
<g font-size="11.3" fill="#222">
<circle cx="135" cy="102.3" r="5" fill="#F08C9F"/>
<text x="144.7" y="105.3" textLength="64.3" lengthAdjust="spacingAndGlyphs">FRANCE (MPF)</text>
<circle cx="231.6" cy="102.3" r="5" fill="#BE2E45"/>
<text x="241.8" y="105.3" textLength="83.2" lengthAdjust="spacingAndGlyphs">ALLEMAGNE (AMI)</text>
<circle cx="347.3" cy="102.3" r="5" fill="#FFC000"/>
<text x="356.7" y="105.3" textLength="42.9" lengthAdjust="spacingAndGlyphs">ESPAGNE</text><text x="402.4" y="105.3" textLength="59.3" lengthAdjust="spacingAndGlyphs">(Mercolleida)</text>
<circle cx="484" cy="102.3" r="5" fill="#79DC52"/>
<text x="493.8" y="105.3" textLength="83.6" lengthAdjust="spacingAndGlyphs">DANEMARK (DMA)</text>
<circle cx="600" cy="102.3" r="5" fill="#1B5650"/>
<text x="609.6" y="105.3" textLength="105.5" lengthAdjust="spacingAndGlyphs">PAYS-BAS (BEURSPRIJS)</text>
</g>
<!-- table -->
<rect x="113.4" y="107.5" width="602.1" height="39.2" fill="#fff"/>
<g stroke="#2a2a2a" stroke-width="1.1">
<line x1="112.9" y1="107.55" x2="716" y2="107.55" stroke="#444"/>
<line x1="113.4" y1="127.4" x2="715.5" y2="127.4"/>
<line x1="112.9" y1="146.7" x2="716" y2="146.7" stroke="#3a3a3a"/>
<line x1="113.4" y1="107.5" x2="113.4" y2="146.7"/>
<line x1="215.15" y1="107.5" x2="215.15" y2="146.7"/>
<line x1="329" y1="107.5" x2="329" y2="146.7"/>
<line x1="468.7" y1="107.5" x2="468.7" y2="146.7"/>
<line x1="586.5" y1="107.5" x2="586.5" y2="146.7"/>
<line x1="715.5" y1="107.5" x2="715.5" y2="146.7"/>
</g>
<g font-size="8" fill="#111" text-anchor="middle">
<text x="164.4" y="120.2" font-weight="bold" textLength="23.6" lengthAdjust="spacingAndGlyphs">1,608</text>
<text x="272.3" y="120.2" font-weight="bold" font-style="italic" textLength="22.6" lengthAdjust="spacingAndGlyphs">1,659</text>
<text x="398.8" y="120.2" font-weight="bold" font-style="italic" textLength="22.6" lengthAdjust="spacingAndGlyphs">1,317</text>
<text x="527.6" y="120.2" font-weight="bold" font-style="italic" textLength="22.6" lengthAdjust="spacingAndGlyphs">1,433</text>
<text x="651" y="120.2" font-weight="bold" font-style="italic" textLength="22.6" lengthAdjust="spacingAndGlyphs">1,458</text>
<g font-style="italic" fill="#222">
<text x="164.4" y="139.4" textLength="30" lengthAdjust="spacingAndGlyphs">Ecarts*</text>
<text x="272.3" y="139.4" textLength="21.6" lengthAdjust="spacingAndGlyphs">0,051</text>
<text x="398.8" y="139.4" textLength="25.6" lengthAdjust="spacingAndGlyphs">-0,291</text>
<text x="527.6" y="139.4" textLength="25.8" lengthAdjust="spacingAndGlyphs">-0,175</text>
<text x="651" y="139.4" textLength="25.4" lengthAdjust="spacingAndGlyphs">-0,150</text>
</g>
</g>
<!-- years -->
<g font-size="16" fill="#222">
<text x="368.6" y="407" textLength="36.6" lengthAdjust="spacingAndGlyphs">2024</text>
<text x="423" y="407" textLength="36.6" lengthAdjust="spacingAndGlyphs">2025</text>
</g>
<!-- banner -->
<rect x="1" y="429.7" width="827" height="34.1" rx="8" ry="8" fill="#e1effe"/>
<circle cx="41.6" cy="446.8" r="10.8" fill="none" stroke="#1d58d8" stroke-width="2"/>
<rect x="40.5" y="445.1" width="2.2" height="7.6" rx="1.1" fill="#1d58d8"/>
<circle cx="41.6" cy="442" r="1.45" fill="#1d58d8"/>
<g font-size="14.6" fill="#222"><text x="96.5" y="450.9" textLength="12.8" lengthAdjust="spacingAndGlyphs">La</text><text x="114.8" y="450.9" textLength="56.7" lengthAdjust="spacingAndGlyphs">méthode</text><text x="175.9" y="450.9" textLength="14.6" lengthAdjust="spacingAndGlyphs">de</text><text x="196.4" y="450.9" textLength="34.4" lengthAdjust="spacingAndGlyphs">calcul</text><text x="235.5" y="450.9" textLength="21.2" lengthAdjust="spacingAndGlyphs">des</text><text x="261.9" y="450.9" textLength="19.3" lengthAdjust="spacingAndGlyphs">prix</text><text x="286" y="450.9" textLength="39.9" lengthAdjust="spacingAndGlyphs">payés</text><text x="330.6" y="450.9" textLength="23.1" lengthAdjust="spacingAndGlyphs">aux</text><text x="358.3" y="450.9" textLength="53.9" lengthAdjust="spacingAndGlyphs">éleveurs</text><text x="416.6" y="450.9" textLength="18.3" lengthAdjust="spacingAndGlyphs">est</text><text x="439.6" y="450.9" textLength="54.9" lengthAdjust="spacingAndGlyphs">partagée</text><text x="499.3" y="450.9" textLength="11.7" lengthAdjust="spacingAndGlyphs">et</text><text x="515.4" y="450.9" textLength="60.7" lengthAdjust="spacingAndGlyphs">commune</text><text x="580.5" y="450.9" textLength="30" lengthAdjust="spacingAndGlyphs">avec</text><text x="615.6" y="450.9" textLength="31.5" lengthAdjust="spacingAndGlyphs">l’IFIP.</text></g>
</svg>
</body></html>
